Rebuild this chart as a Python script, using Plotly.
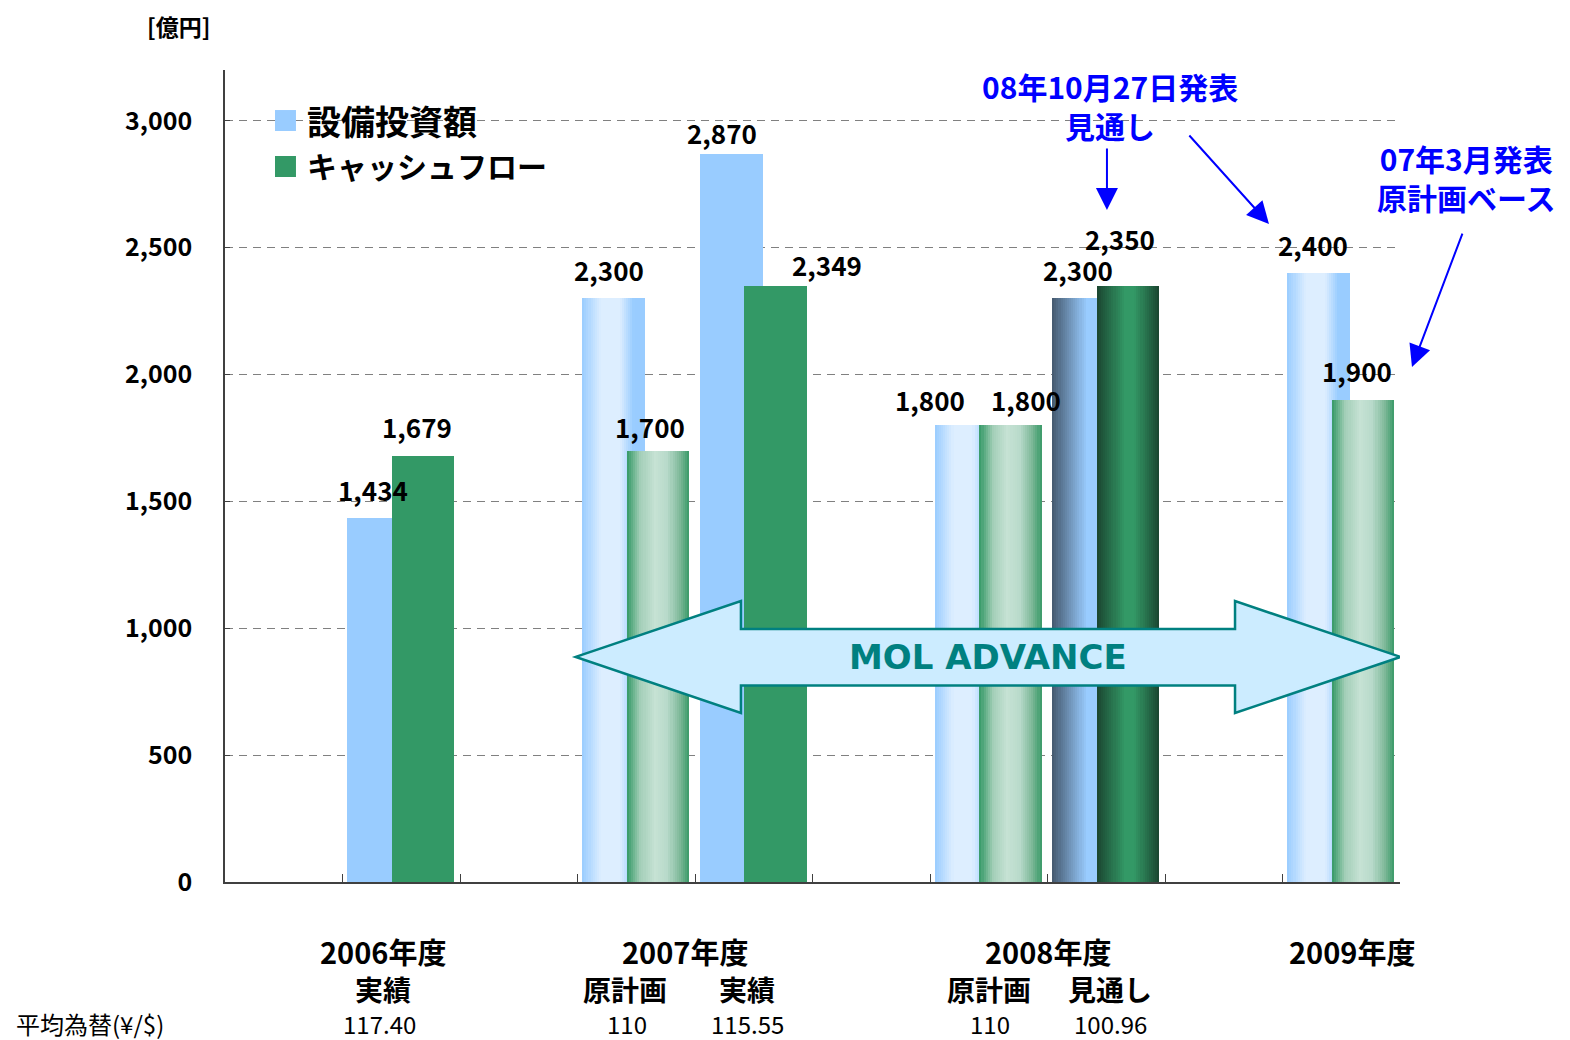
import plotly.graph_objects as go

# ---------------- data ----------------
periods = ["2006年度 実績", "2007年度 原計画", "2007年度 実績",
           "2008年度 原計画", "2008年度 見通し", "2009年度"]
capex = [1434, 2300, 2870, 1800, 2300, 2400]          # 設備投資額
cashflow = [1679, 1700, 2349, 1800, 2350, 1900]       # キャッシュフロー
fill_kind = ["solid", "plan", "solid", "plan", "forecast", "plan"]
year_labels = ["2006年度", "2007年度", "2008年度", "2009年度"]
sub_labels = ["実績", "原計画", "実績", "原計画", "見通し"]
fx_rates = ["117.40", "110", "115.55", "110", "100.96"]
y_ticks = [0, 500, 1000, 1500, 2000, 2500, 3000]

# ---------------- layout constants ----------------
slots = [1, 3, 4, 6, 7, 9]            # category slot of each period (10 slots)
year_x = [0.845, 3.415, 6.504, 9.09]
sub_x = [0.845, 2.904, 3.943, 6.002, 7.032]
fx_x = [0.811, 2.921, 3.951, 6.011, 7.04]
capex_lbl_dx = [-0.24, -0.23, -0.27, -0.50, -0.24, -0.24]
capex_lbl_dy = [29, 29, 21, 26, 29, 29]
cf_lbl_dx = [0.13, 0.12, 0.62, 0.32, 0.12, 0.13]
cf_lbl_dy = [29, 24, 21, 26, 47, 29]

BLUE = "#99CCFF"
GREEN = "#339966"
JP = "Noto Sans CJK JP"

profiles = {
    ("capex", "solid"): [(0, BLUE), (1, BLUE)],
    ("capex", "plan"): [(0, "#99CCFF"), (0.3, "#DDEEFF"), (0.6, "#DDEEFF"),
                        (0.82, "#99CCFF"), (1, "#99CCFF")],
    ("capex", "forecast"): [(0, "#44586E"), (0.55, "#99CCFF"), (1, "#99CCFF")],
    ("cf", "solid"): [(0, GREEN), (1, GREEN)],
    ("cf", "plan"): [(0, "#339966"), (0.22, "#A4CFB8"), (0.45, "#C6E2D4"),
                     (0.65, "#B8DACA"), (0.85, "#7DB898"), (1, "#3A9A68")],
    ("cf", "forecast"): [(0, "#1A4530"), (0.45, "#339966"), (0.6, "#339966"),
                         (1, "#1A4530")],
}


def hex2rgb(h):
    h = h.lstrip("#")
    return tuple(int(h[i:i + 2], 16) for i in (0, 2, 4))


def color_at(stops, t):
    for (t0, c0), (t1, c1) in zip(stops[:-1], stops[1:]):
        if t0 <= t <= t1:
            f = 0 if t1 == t0 else (t - t0) / (t1 - t0)
            a, b = hex2rgb(c0), hex2rgb(c1)
            r = [round(a[i] + (b[i] - a[i]) * f) for i in range(3)]
            return "rgb({},{},{})".format(*r)
    return stops[-1][1]


fig = go.Figure()

N = 30
series = [
    ("capex", "設備投資額", capex, BLUE, -0.46, 0.535),
    ("cf", "キャッシュフロー", cashflow, GREEN, -0.08, 0.53),
]
for key, name, vals, base_col, off, w in series:
    # base bar (semantic / hover)
    fig.add_trace(go.Bar(
        x=slots, y=vals, name=name, offset=off, width=w,
        marker=dict(color=base_col, line=dict(width=0)),
        customdata=periods, showlegend=False,
        hovertemplate="%{customdata}<br>" + name + ": %{y:,}<extra></extra>",
    ))
    # gradient slices
    sw = w / N
    for k in range(N):
        t = (k + 0.5) / N
        cols = [color_at(profiles[(key, kind)], t) for kind in fill_kind]
        fig.add_trace(go.Bar(
            x=slots, y=vals, offset=off + k * sw,
            width=sw * (1.25 if k < N - 1 else 1.0),
            marker=dict(color=cols, line=dict(width=0)),
            showlegend=False, hoverinfo="skip",
        ))

BOLD = "bold"
annotations = []
# value labels
for i, s in enumerate(slots):
    annotations.append(dict(x=s + capex_lbl_dx[i], y=capex[i], xref="x", yref="y",
                            text=f"{capex[i]:,}", showarrow=False, xanchor="center",
                            yanchor="middle", yshift=capex_lbl_dy[i],
                            font=dict(family=JP, size=26, color="black", weight=BOLD)))
    annotations.append(dict(x=s + cf_lbl_dx[i], y=cashflow[i], xref="x", yref="y",
                            text=f"{cashflow[i]:,}", showarrow=False, xanchor="center",
                            yanchor="middle", yshift=cf_lbl_dy[i],
                            font=dict(family=JP, size=26, color="black", weight=BOLD)))

# category labels below axis
for lbl, x in zip(year_labels, year_x):
    annotations.append(dict(x=x, y=-0.0850, xref="x", yref="paper", text=lbl,
                            showarrow=False, xanchor="center", yanchor="middle",
                            font=dict(family=JP, size=29, color="black", weight=BOLD)))
for lbl, x in zip(sub_labels, sub_x):
    annotations.append(dict(x=x, y=-0.1318, xref="x", yref="paper", text=lbl,
                            showarrow=False, xanchor="center", yanchor="middle",
                            font=dict(family=JP, size=28, color="black", weight=BOLD)))
for lbl, x in zip(fx_rates, fx_x):
    annotations.append(dict(x=x, y=-0.1740, xref="x", yref="paper", text=lbl,
                            showarrow=False, xanchor="center", yanchor="middle",
                            font=dict(family=JP, size=24, color="black")))
annotations.append(dict(x=-0.1796, y=-0.1740, xref="paper", yref="paper",
                        text="平均為替(¥/$)", showarrow=False, xanchor="left",
                        yanchor="middle", font=dict(family=JP, size=24, color="black")))

# unit
annotations.append(dict(x=-0.04, y=1.0545, xref="paper", yref="paper", text="[億円]",
                        showarrow=False, xanchor="center", yanchor="middle",
                        font=dict(family=JP, size=23, color="black", weight=BOLD)))

# legend texts
annotations.append(dict(x=0.0681, y=0.9384, xref="paper", yref="paper", text="設備投資額",
                        showarrow=False, xanchor="left", yanchor="middle",
                        font=dict(family=JP, size=34, color="black", weight=BOLD)))
annotations.append(dict(x=0.0681, y=0.883, xref="paper", yref="paper", text="キャッシュフロー",
                        showarrow=False, xanchor="left", yanchor="middle",
                        font=dict(family=JP, size=30, color="black", weight=BOLD)))

# MOL ADVANCE text
annotations.append(dict(x=5.994, y=887, xref="x", yref="y", text="MOL ADVANCE",
                        showarrow=False, xanchor="center", yanchor="middle",
                        font=dict(family="DejaVu Sans", size=34, color="#008080",
                                  weight=BOLD)))

# blue callouts
annotations.append(dict(x=0.7532, y=0.9557, xref="paper", yref="paper",
                        text="08年10月27日発表<br>見通し", showarrow=False,
                        xanchor="center", yanchor="middle",
                        font=dict(family=JP, size=30, color="#0000FF", weight=BOLD)))
annotations.append(dict(x=1.057, y=0.867, xref="paper", yref="paper",
                        text="07年3月発表<br>原計画ベース", showarrow=False,
                        xanchor="center", yanchor="middle",
                        font=dict(family=JP, size=30, color="#0000FF", weight=BOLD)))
for hx, hy, ax, ay in [(0.7506, 0.8276, 0, -63), (0.8885, 0.8103, -81, -90),
                       (1.0102, 0.6342, 51, -135)]:
    annotations.append(dict(x=hx, y=hy, xref="paper", yref="paper", text="",
                            showarrow=True, ax=ax, ay=ay, axref="pixel", ayref="pixel",
                            arrowhead=2, arrowsize=2.2, arrowwidth=2,
                            arrowcolor="#0000FF"))

shapes = [
    # legend white box
    dict(type="rect", xref="paper", yref="paper", x0=0.034, x1=0.285, y0=0.852,
         y1=0.973, fillcolor="white", line=dict(width=0), layer="between"),
    dict(type="rect", xref="paper", yref="paper", x0=0.04255, x1=0.0604, y0=0.9249,
         y1=0.9507, fillcolor=BLUE, line=dict(width=0)),
    dict(type="rect", xref="paper", yref="paper", x0=0.04255, x1=0.0604, y0=0.8682,
         y1=0.8941, fillcolor=GREEN, line=dict(width=0)),
    # MOL ADVANCE double arrow
    dict(type="path", xref="x", yref="y",
         path=("M 2.485 887 L 3.891 1107 L 3.891 997 L 8.096 997 L 8.096 1107 "
               "L 9.504 887 L 8.096 666 L 8.096 774 L 3.891 774 L 3.891 666 Z"),
         fillcolor="#CCECFF", line=dict(color="#008080", width=2.5), layer="above"),
]

# page body has an 8px margin, so the figure is sized/offset to compensate
fig.update_layout(
    width=1562, height=1032,
    margin=dict(l=217, r=170, t=62, b=158),
    plot_bgcolor="white", paper_bgcolor="white",
    barmode="overlay", bargap=0,
    showlegend=False,
    annotations=annotations, shapes=shapes,
    font=dict(family=JP, color="black"),
    xaxis=dict(range=[-0.5, 9.5], showgrid=False, zeroline=False,
               showline=True, linecolor="#404040", linewidth=1.5,
               ticks="inside", ticklen=8, tickcolor="#404040",
               tickmode="linear", tick0=0.5, dtick=1, showticklabels=False,
               fixedrange=True),
    yaxis=dict(range=[0, 3200], tickvals=y_ticks,
               ticktext=[f"{v:,}" for v in y_ticks],
               showgrid=True, gridcolor="#808080", gridwidth=1, griddash="8px,6px",
               zeroline=False, showline=True, linecolor="#404040", linewidth=1.5,
               ticks="inside", ticklen=5, tickcolor="#404040",
               ticklabelstandoff=26,
               tickfont=dict(family=JP, size=25, color="black", weight=BOLD),
               fixedrange=True),
)

fig.write_html("out.html")
